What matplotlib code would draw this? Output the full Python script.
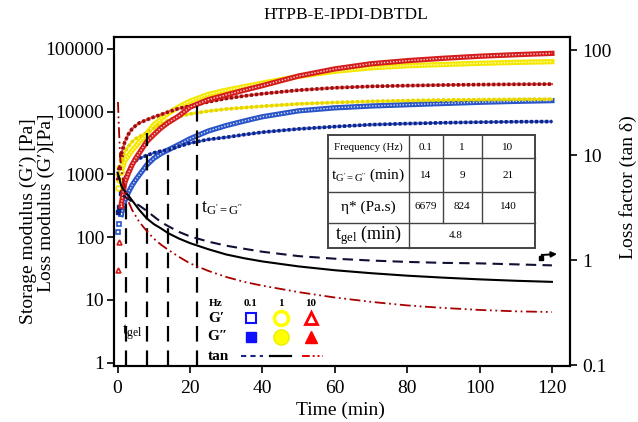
import matplotlib.pyplot as plt
from matplotlib.lines import Line2D

plt.rcParams['font.family'] = ['Liberation Serif', 'DejaVu Serif']
plt.rcParams['mathtext.fontset'] = 'custom'
plt.rcParams['mathtext.rm'] = 'Liberation Serif'
plt.rcParams['mathtext.it'] = 'Liberation Serif:italic'

W, H = 638, 422

# moduli (Pa) vs time (min)
t_mod = [0.2, 0.5, 1, 2, 3, 4, 5, 6, 8, 10, 12, 14, 17, 20, 25, 30, 35, 40,
         50, 60, 70, 80, 90, 100, 110, 120]
g1_01 = [120, 160, 230, 380, 520, 670, 820, 980, 1400, 1800, 2150, 2460, 3000,
         3700, 4900, 6000, 7100, 8300, 10300, 11500, 12300, 12900, 13500,
         14100, 14600, 15000]
g2_01 = [250, 300, 500, 850, 1150, 1450, 1650, 1800, 2000, 2200, 2350, 2460,
         2800, 3150, 3600, 3900, 4300, 4700, 5300, 5770, 6200, 6450, 6650,
         6800, 6900, 6950]
g1_1 = [600, 800, 1100, 1650, 2000, 2400, 2800, 3300, 4400, 6200, 7700, 9400,
        12000, 14700, 18800, 22000, 25000, 28500, 36500, 44000, 50000, 54000,
        56500, 59000, 61000, 62700]
g2_1 = [1000, 1300, 1700, 2300, 2800, 3300, 3700, 4000, 4600, 5400, 6300, 7300,
        8400, 9200, 10200, 11000, 11600, 12200, 13300, 14000, 14600, 15000,
        15300, 15500, 15700, 15800]
g1_10 = [30, 85, 330, 750, 1050, 1420, 1800, 2200, 3300, 4300, 5500, 6700,
         8600, 11800, 15500, 18500, 22000, 26000, 37000, 48000, 58000, 65000,
         71000, 76500, 81000, 85000]
g2_10 = [900, 1300, 2100, 3300, 4400, 5300, 6000, 6600, 7400, 8200, 9000, 9900,
         11300, 12200, 14300, 16200, 17800, 19300, 22000, 24000, 25300, 26000,
         26600, 27000, 27300, 27500]

# loss factor
t_tan1 = [0, 1, 2, 3, 4, 6, 8, 10, 12, 14, 17, 20, 25, 30, 35, 40, 50, 60, 70,
          80, 90, 100, 110, 120]
tan_1 = [6.8, 5.1, 4.5, 4.1, 3.7, 3.0, 2.5, 2.2, 2.0, 1.8, 1.6, 1.45, 1.27,
         1.13, 1.04, 0.97, 0.87, 0.80, 0.75, 0.71, 0.68, 0.655, 0.635, 0.62]
t_tan01 = [1.5, 2, 3, 4, 6, 8, 10, 12, 14, 17, 20, 25, 30, 35, 40, 50, 60, 70,
           80, 90, 100, 110, 120]
tan_01 = [4.1, 4.0, 3.8, 3.6, 3.3, 2.95, 2.6, 2.3, 2.1, 1.85, 1.68, 1.5, 1.37,
          1.28, 1.2, 1.09, 1.03, 0.99, 0.96, 0.94, 0.93, 0.91, 0.89]
t_tan10 = [0.1, 0.3, 0.7, 1, 1.5, 2, 3, 4, 6, 8, 10, 12, 14, 17, 20, 25, 30,
           35, 40, 50, 60, 70, 80, 90, 100, 110, 120]
tan_10 = [32, 20, 9.6, 7.5, 5.8, 4.8, 3.6, 3.0, 2.3, 1.9, 1.6, 1.4, 1.25, 1.07,
          0.93, 0.79, 0.69, 0.62, 0.57, 0.495, 0.44, 0.40, 0.37, 0.35, 0.335,
          0.325, 0.32]

# marker lines (gel point and crossovers)
vline_t = [2.3, 8.0, 13.9, 21.9]
vline_top = [440, 4600, 2100, 12800]

xticks = [0, 20, 40, 60, 80, 100, 120]
yticks_l = [1, 10, 100, 1000, 10000, 100000]
yticks_r = [0.1, 1, 10, 100]

tbl_freq = ['0.1', '1', '10']
tbl_tcross = ['14', '9', '21']
tbl_eta = ['6679', '824', '140']
tbl_tgel = '4.8'


def fp(x, y):
    return (x / W, 1 - y / H)


fig = plt.figure(figsize=(W / 100, H / 100), dpi=100)
ax = fig.add_axes([114 / W, 1 - 366 / H, 456 / W, 329 / H])
ax2 = ax.twinx()

N0 = 2  # first readings are isolated markers near t = 0


def band(t, v, c, m, z=3):
    # chain of open markers -> coloured band with pale dotted core
    ax.plot(t[N0:], v[N0:], color=c, lw=3.8, zorder=z)
    ax.plot(t[N0:], v[N0:], color='white', lw=1.0, alpha=0.8,
            ls=(0, (1, 1.2)), zorder=z + 0.1)
    ax.plot(t[:N0 + 1], v[:N0 + 1], ls='none', marker=m, ms=3.5, mfc='white',
            mec=c, mew=1.2, zorder=z)


def dots(t, v, base, dot, m, z=3):
    ax.plot(t[N0:], v[N0:], color=base, lw=1.6, zorder=z)
    ax.plot(t[N0:], v[N0:], color=dot, lw=2.6, ls=(0, (0.8, 0.6)),
            zorder=z + 0.1)
    ax.plot(t[:N0 + 1], v[:N0 + 1], ls='none', marker=m, ms=3, color=dot,
            zorder=z)


band(t_mod, g1_01, '#2a55c8', 's')
dots(t_mod, g2_01, '#3a5ad8', '#0c2480', 's')
band(t_mod, g1_1, '#f5e800', 'o')
dots(t_mod, g2_1, '#f5e800', '#e6d400', 'o')
band(t_mod, g1_10, '#d41c1c', '^', z=3.5)
dots(t_mod, g2_10, '#e04848', '#9a0c0c', '^')

ax.vlines(vline_t, 0.88, vline_top, colors='k', lw=1.6,
          linestyles=[(0, (7, 4))], zorder=4)

ax2.plot(t_tan01, tan_01, color='#101035', lw=1.5, ls=(0, (5, 3)))
ax2.plot(t_tan1, tan_1, color='k', lw=1.5)
ax2.plot(t_tan10, tan_10, color='#a80000', lw=1.3,
         ls=(0, (6, 2, 1, 2, 1, 2)))

ax.set_xlim(-1, 125)
ax.set_yscale('log')
ax.set_ylim(0.88, 155000)
ax2.set_yscale('log')
ax2.set_ylim(0.098, 133)

ax.set_xticks(xticks)
ax.set_xticklabels([str(v) for v in xticks])
ax.set_yticks(yticks_l)
ax.set_yticklabels([str(v) for v in yticks_l])
ax2.set_yticks(yticks_r)
ax2.set_yticklabels(['0.1', '1', '10', '100'])
ax.minorticks_off()
ax2.minorticks_off()

ax.tick_params(axis='both', direction='out', length=5, width=1.2,
               labelsize=14)
ax.tick_params(axis='y', pad=2)
ax.tick_params(axis='x', pad=5)
ax2.tick_params(axis='y', direction='out', length=5, width=1.2,
                labelsize=14, pad=4)
for a in (ax, ax2):
    for s in a.spines.values():
        s.set_linewidth(1.5)

# titles / axis labels
fig.text(*fp(346, 15), 'HTPB-E-IPDI-DBTDL', ha='center', va='center',
         fontsize=12.5)
fig.text(*fp(340, 410), 'Time (min)', ha='center', va='center', fontsize=14)
fig.text(*fp(28, 221), 'Storage modulus (G\u2032) [Pa]', rotation=90,
         ha='center', va='center', fontsize=14)
fig.text(*fp(46, 203), 'Loss modulus (G\u2032)[Pa]', rotation=90,
         ha='center', va='center', fontsize=14)
fig.text(*fp(628, 187), 'Loss factor (tan \u03b4)', rotation=90,
         ha='center', va='center', fontsize=14)

# in-plot labels
fig.text(*fp(122, 332), r't$_{\mathrm{gel}}$', ha='left', va='center',
         fontsize=12)
fig.text(*fp(201, 208), r't$_{\mathrm{G^{\prime}=G^{\prime\prime}}}$',
         ha='left', va='center', fontsize=13)

# table
tcol = '#444444'


def fline(x0, y0, x1, y1, lw=1.0):
    fig.add_artist(Line2D([x0 / W, x1 / W], [1 - y0 / H, 1 - y1 / H],
                          transform=fig.transFigure, color=tcol, lw=lw))


fline(328, 135, 535, 135, 1.4)
fline(328, 248, 535, 248, 1.4)
fline(328, 135, 328, 248, 1.4)
fline(535, 135, 535, 248, 1.4)
for yy in (158, 192, 223):
    fline(328, yy, 535, yy)
fline(409, 135, 409, 248)
fline(443, 135, 443, 223)
fline(482, 135, 482, 223)

col_x = [426, 462, 508]
fig.text(*fp(368, 147), 'Frequency (Hz)', ha='center', va='center',
         fontsize=7.8)
fig.text(*fp(368, 175), r't$_{\mathrm{G^{\prime}=G^{\prime\prime}}}$ (min)',
         ha='center', va='center', fontsize=11)
fig.text(*fp(368, 207), '\u03b7* (Pa.s)', ha='center', va='center',
         fontsize=11)
fig.text(*fp(368, 235), r't$_{\mathrm{gel}}$ (min)', ha='center',
         va='center', fontsize=13)
for i, x in enumerate(col_x):
    fig.text(*fp(x, 147), tbl_freq[i], ha='center', va='center', fontsize=8)
    fig.text(*fp(x, 176), tbl_tcross[i], ha='center', va='center',
             fontsize=8)
    fig.text(*fp(x, 206), tbl_eta[i], ha='center', va='center', fontsize=8)
fig.text(*fp(456, 236), tbl_tgel, ha='center', va='center', fontsize=8)

# small arrow pointing to right axis
fig.add_artist(Line2D([541 / W, 542 / W], [1 - 258 / H, 1 - 255 / H],
                      transform=fig.transFigure, color='k', lw=1.5,
                      marker='s', ms=3.5, markevery=[0]))
ax.annotate('', xy=fp(557, 254), xytext=fp(542, 255),
            xycoords='figure fraction', textcoords='figure fraction',
            arrowprops=dict(arrowstyle='-|>', color='k', lw=1.4,
                            mutation_scale=8, shrinkA=0, shrinkB=0))

# custom legend
hdr = ['0.1', '1', '10']
lx = [251, 281, 311]
fig.text(*fp(216, 303), 'Hz', ha='center', va='center', fontsize=8,
         fontweight='bold')
for x, s in zip(lx, hdr):
    fig.text(*fp(x, 303), s, ha='center', va='center', fontsize=8,
             fontweight='bold')
fig.text(*fp(216, 318), 'G\u2032', ha='center', va='center', fontsize=11,
         fontweight='bold')
fig.text(*fp(217, 337), 'G\u2033', ha='center', va='center', fontsize=11,
         fontweight='bold')
fig.text(*fp(218, 356), 'tan', ha='center', va='center', fontsize=11,
         fontweight='bold')


def fmark(x, y, **kw):
    fig.add_artist(Line2D([x / W], [1 - y / H], transform=fig.transFigure,
                          ls='none', **kw))


fmark(251, 318, marker='s', ms=7, mfc='white', mec='#1010ff', mew=1.5)
fmark(281, 318, marker='o', ms=10, mfc='white', mec='#ffff00', mew=2.6)
fmark(311, 318, marker='^', ms=8, mfc='white', mec='#ff0000', mew=2.0)
fmark(251, 337, marker='s', ms=7, mfc='#1010ff', mec='#1010ff')
fmark(281, 337, marker='o', ms=11, mfc='#ffff00', mec='#e8f000', mew=1)
fmark(311, 337, marker='^', ms=8, mfc='#ff0000', mec='#ff0000')
fline_kw = dict(transform=fig.transFigure)
fig.add_artist(Line2D([241 / W, 263 / W], [1 - 356 / H] * 2, color='#1a2a80',
                      lw=1.5, ls=(0, (2.5, 2)), **fline_kw))
fig.add_artist(Line2D([270 / W, 291 / W], [1 - 356 / H] * 2, color='k',
                      lw=1.6, **fline_kw))
fig.add_artist(Line2D([302 / W, 323 / W], [1 - 356 / H] * 2, color='#e00000',
                      lw=1.4, ls=(0, (4, 1.5, 1, 1.5, 1, 1.5)), **fline_kw))

fig.savefig('out.png', dpi=100)
